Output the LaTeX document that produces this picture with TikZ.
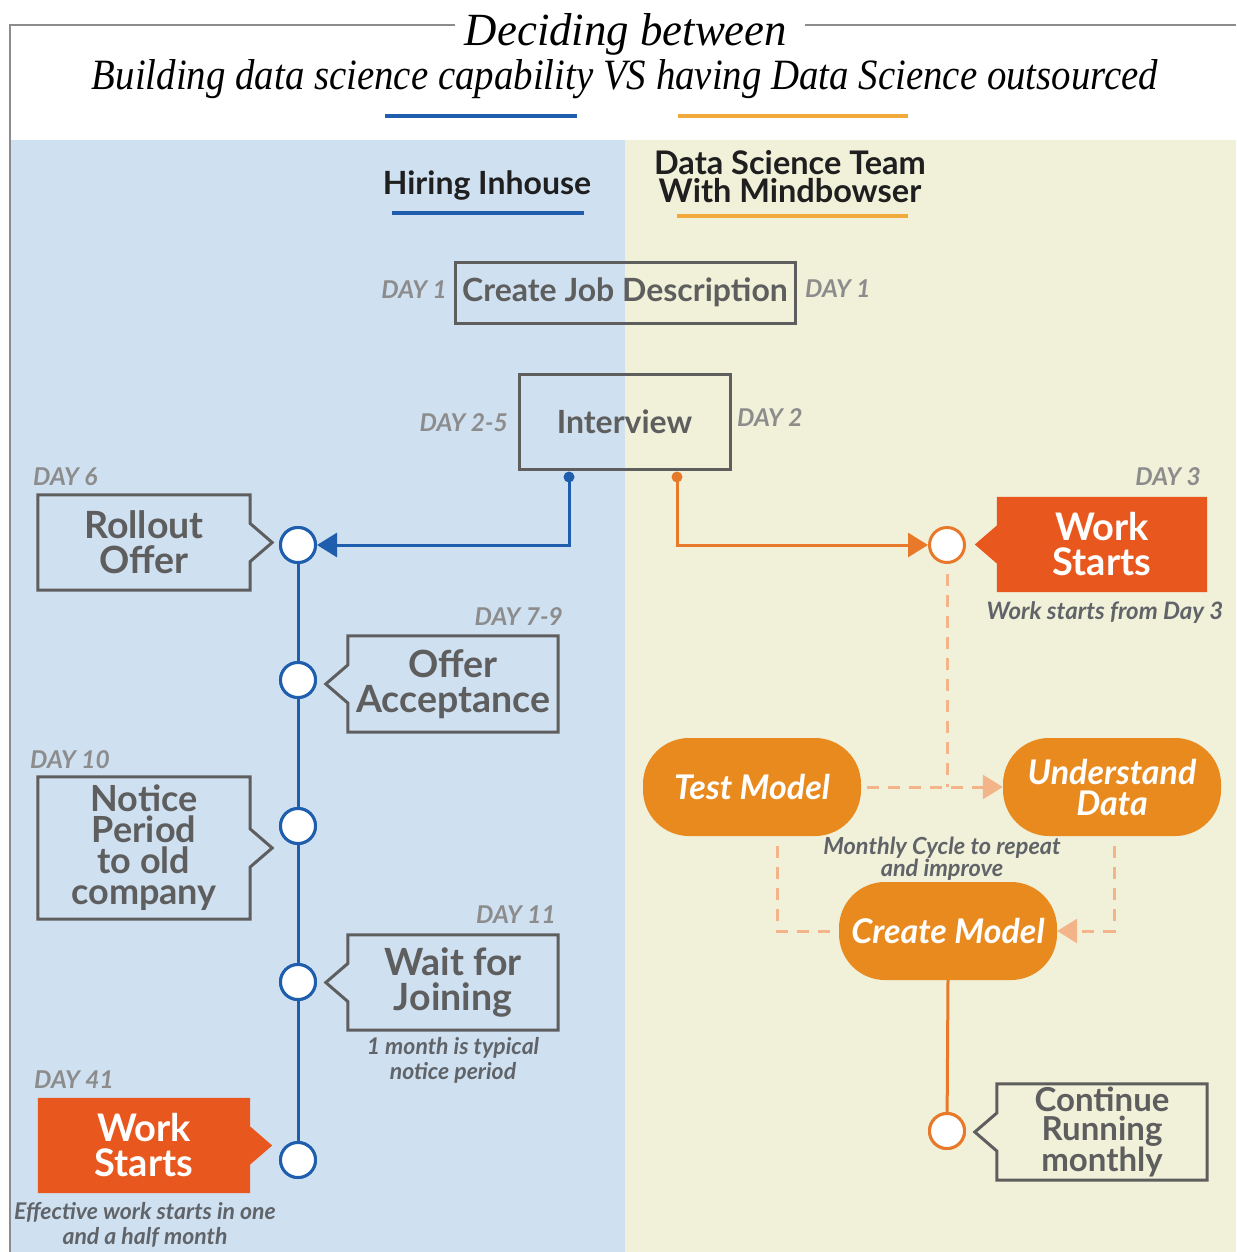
\documentclass[tikz,border=0pt]{standalone}
\usepackage{fontspec}
\setmainfont{Lato}
\newfontfamily\titlefont{Liberation Serif}
\usetikzlibrary{calc,arrows.meta}
\definecolor{bluebg}{HTML}{CFE0F1}
\definecolor{beigebg}{HTML}{F1F1DA}
\definecolor{blueln}{HTML}{1E5EAD}
\definecolor{orangeln}{HTML}{E8782A}
\definecolor{pillfill}{HTML}{E98A1F}
\definecolor{workfill}{HTML}{E8571E}
\definecolor{boxgrey}{HTML}{5E5E5E}
\definecolor{daygrey}{HTML}{8C8C8C}
\definecolor{dashor}{HTML}{F3B48A}
\definecolor{titleor}{HTML}{F2A93B}
\definecolor{capgrey}{HTML}{606468}
\newcommand\fs[2]{\fontsize{#1}{#2}\selectfont}
\newcommand\calloutR[2]{\path[#2] (#1.north west) -- (#1.north east) -- ($(#1.east)+(0,-19)$) -- ($(#1.east)+(22,0)$) -- ($(#1.east)+(0,19)$) -- (#1.south east) -- (#1.south west) -- cycle;}
\newcommand\calloutL[2]{\path[#2] (#1.north east) -- (#1.north west) -- ($(#1.west)+(0,-19)$) -- ($(#1.west)+(-22,0)$) -- ($(#1.west)+(0,19)$) -- (#1.south west) -- (#1.south east) -- cycle;}
\begin{document}
\begin{tikzpicture}[x=1pt,y=-1pt,
  gbox/.style={draw=boxgrey, line width=3pt, text=boxgrey, font=\fs{32}{34}\bfseries, inner sep=0pt},
  cbox/.style={text=boxgrey, font=\fs{37.5}{35}\bfseries, align=center, inner sep=0pt, minimum width=212pt, minimum height=95pt},
  wbox/.style={text=white, font=\fs{38}{35}\bfseries, align=center, inner sep=0pt, minimum width=212pt, minimum height=95pt},
  outline/.style={draw=boxgrey, line width=3pt},
  workout/.style={fill=workfill},
  day/.style={text=daygrey, font=\fs{24.5}{26}\bfseries\itshape, inner sep=0pt},
  capt/.style={text=capgrey, font=\fs{23}{25}\bfseries\itshape, align=center, inner sep=0pt},
  bcirc/.style={circle, draw=blueln, line width=3pt, fill=white, minimum size=35pt, inner sep=0pt},
  ocirc/.style={circle, draw=orangeln, line width=3pt, fill=white, minimum size=35pt, inner sep=0pt},
  pill/.style={fill=pillfill, rounded corners=46pt, minimum width=218pt, minimum height=98pt, text=white, font=\fs{34}{31}\bfseries\itshape, align=center, inner sep=0pt},
  bline/.style={draw=blueln, line width=3pt},
  oline/.style={draw=orangeln, line width=3pt},
  dline/.style={draw=dashor, line width=3pt, dash pattern=on 12pt off 9pt}
]
\useasboundingbox (0,0) rectangle (1236,1252);
\fill[white] (0,0) rectangle (1236,1252);
% panels
\fill[bluebg] (10,140) rectangle (625,1252);
\fill[beigebg] (625,140) rectangle (1236,1252);
\draw[black!45, line width=1.5pt] (10,1252) -- (10,25) -- (455,25);
\draw[black!45, line width=1.5pt] (805,25) -- (1236,25);
% title
\node[anchor=base, inner sep=0pt] (t1) at (626,46) {\resizebox{322pt}{32pt}{\titlefont\itshape Deciding between}};
\node[anchor=base, inner sep=0pt] (t2) at (625,90) {\resizebox{1066pt}{30pt}{\titlefont\itshape Building data science capability VS having Data Science outsourced}};
\draw[blueln, line width=3.5pt] (385,116) -- (577,116);
\draw[titleor, line width=3.5pt] (678,116) -- (908,116);
% headings
\node[font=\fs{32}{34}\bfseries, text=black!88, inner sep=0pt] (hi) at (487,186) {Hiring Inhouse};
\draw[blueln, line width=3.5pt] (392,213) -- (584,213);
\node[font=\fs{32.5}{28}\bfseries, text=black!88, align=center, inner sep=0pt] (ds) at (790,177) {Data Science Team\\With Mindbowser};
\draw[titleor, line width=3.5pt] (677,216) -- (908,216);
% top boxes
\node[gbox, minimum width=340pt, minimum height=61pt] (cjd) at (625,292.5) {Create Job Description};
\node[day, anchor=east] (d1l) at (447,290) {DAY 1};
\node[day, anchor=west] (d1r) at (805,289) {DAY 1};
\node[gbox, minimum width=211pt, minimum height=95pt] (iv) at (624.5,421.5) {Interview};
\node[day, anchor=east] (d25) at (508,423) {DAY 2-5};
\node[day, anchor=west] (d2) at (737,418) {DAY 2};
% blue timeline
\node[bcirc] (b1) at (298,545) {};
\node[bcirc] (b2) at (298,680) {};
\node[bcirc] (b3) at (298,826) {};
\node[bcirc] (b4) at (298,982) {};
\node[bcirc] (b5) at (298,1160) {};
\draw[bline] (b1) -- (b2) -- (b3) -- (b4) -- (b5);
\foreach \n in {b1,b2,b3,b4,b5} \node[bcirc] at (\n) {};
\coordinate (bdot) at (569,477);
\fill[blueln] (bdot) circle (5.5pt);
\draw[bline, -{Triangle[length=20pt,width=24pt]}] (bdot) |- (b1);
% orange start
\node[ocirc] (o1) at (947,545) {};
\coordinate (odot) at (677,477);
\fill[orangeln] (odot) circle (5.5pt);
\draw[oline, -{Triangle[length=20pt,width=24pt]}] (odot) |- (o1);
% left callouts
\node[cbox] (ro) at (144,542.5) {Rollout\\Offer};
\calloutR{ro}{outline}
\node[day, anchor=west] (d6) at (33,477) {DAY 6};
\node[cbox, minimum width=210pt, minimum height=96pt] (oa) at (453,684) {Offer\\Acceptance};
\calloutL{oa}{outline}
\node[day, anchor=east] (d79) at (563,617) {DAY 7-9};
\node[cbox, minimum height=142pt, font=\fs{36}{31}\bfseries] (np) at (144,848) {Notice\\Period\\to old\\company};
\calloutR{np}{outline}
\node[day, anchor=west] (d10) at (30,760) {DAY 10};
\node[cbox, minimum width=210pt] (wj) at (453,982.5) {Wait for\\Joining};
\calloutL{wj}{outline}
\node[day, anchor=east] (d11) at (556,915) {DAY 11};
\node[capt] (cap1) at (453,1060) {1 month is typical\\notice period};
\node[wbox] (ws) at (144,1145.5) {};
\calloutR{ws}{workout}
\node[wbox] (wst) at (ws) {Work\\Starts};
\node[day, anchor=west] (d41) at (34,1080) {DAY 41};
\node[capt] (cap2) at (145,1225) {Effective work starts in one\\and a half month};
% right side
\node[wbox, minimum width=210pt] (wr) at (1102,544.5) {};
\calloutL{wr}{workout}
\node[wbox, minimum width=210pt] (wrt) at (wr) {Work\\Starts};
\node[day, anchor=east] (d3) at (1201,477) {DAY 3};
\node[capt, font=\fs{24}{25}\bfseries\itshape] (cap3) at (1105,613) {Work starts from Day 3};
% cycle
\node[pill] (tm) at (752,787) {Test Model};
\node[pill] (ud) at (1112,787) {Understand\\Data};
\node[pill] (cm) at (948,931) {Create Model};
\draw[dline] ($(o1.south)+(0,10)$) -- (o1 |- tm.east);
\draw[dline, -{Triangle[length=20pt,width=24pt,fill=dashor]}] ($(tm.east)+(6,0)$) -- (ud.west);
\draw[dline, -{Triangle[length=20pt,width=24pt]}] ($(ud.south)+(2,10)$) |- (cm.east);
\draw[dline] ($(tm.south)+(25,10)$) |- (cm.west);
\node[capt, font=\fs{23.5}{22}\bfseries\itshape] (cap4) at (942,859) {Monthly Cycle to repeat\\and improve};
\node[ocirc] (o2) at (947,1131) {};
\draw[oline] (cm.south) -- (o2);
\node[ocirc] at (o2) {};
\node[cbox, minimum width=210pt, minimum height=96pt, font=\fs{33}{29}\bfseries] (cr) at (1102,1132) {Continue\\Running\\monthly};
\calloutL{cr}{outline}
\end{tikzpicture}
\end{document}
